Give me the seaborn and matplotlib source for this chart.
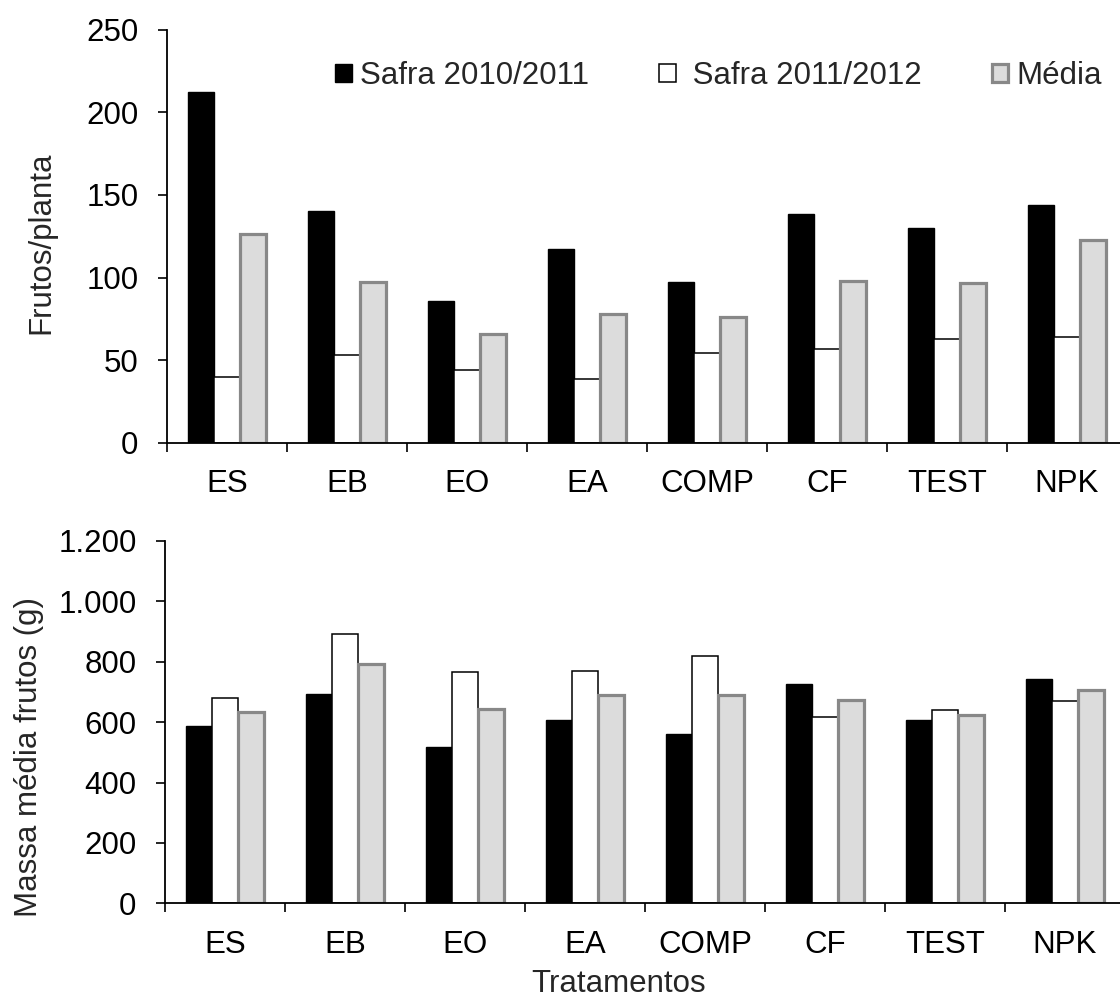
import numpy as np
import pandas as pd
import matplotlib
matplotlib.use("Agg")
import matplotlib.pyplot as plt
import seaborn as sns
from matplotlib.patches import Patch
from matplotlib.ticker import FuncFormatter

# ---------------- data ----------------
categories = ["ES", "EB", "EO", "EA", "COMP", "CF", "TEST", "NPK"]
series_names = ["Safra 2010/2011", "Safra 2011/2012", "Média"]

frutos_2010 = [212, 140, 86, 117, 97, 138.5, 130, 144]
frutos_2011 = [40, 53, 44, 38.5, 54, 57, 63, 64]
frutos_media = [126.5, 97, 65.5, 78, 76, 98, 96.5, 122.5]

massa_2010 = [587, 692, 518, 608, 562, 727, 607, 742]
massa_2011 = [681, 891, 767, 770, 818, 616, 639, 670]
massa_media = [635, 792, 644, 691, 691, 672, 625, 708]

top_yticks = [0, 50, 100, 150, 200, 250]
bottom_yticks = [0, 200, 400, 600, 800, 1000, 1200]

top_ylabel = "Frutos/planta"
bottom_ylabel = "Massa média frutos (g)"
xlabel = "Tratamentos"

# ---------------- style ----------------
sns.set_theme(style="white")
plt.rcParams["font.family"] = ["Liberation Sans", "DejaVu Sans"]
FS = 22.5

fills = ["#000000", "#FFFFFF", "#DCDCDC"]
edges = ["#000000", "#000000", "#888888"]
lws = [1.0, 1.1, 2.3]


def long_df(a, b, c):
    rows = []
    for name, vals in zip(series_names, (a, b, c)):
        for cat, v in zip(categories, vals):
            rows.append({"Tratamento": cat, "Serie": name, "Valor": v})
    return pd.DataFrame(rows)


W, H = 1120, 999
fig = plt.figure(figsize=(W / 100, H / 100), dpi=100)

ax1 = fig.add_axes([167 / W, 1 - 442.7 / H, 960 / W, 413 / H])
ax2 = fig.add_axes([165 / W, 1 - 903.3 / H, 960 / W, 362.3 / H])


def draw(ax, df, ylim, yticks, fmt=None):
    sns.barplot(data=df, x="Tratamento", y="Valor", hue="Serie",
                order=categories, hue_order=series_names,
                palette=fills, saturation=1, width=0.65, errorbar=None,
                legend=False, ax=ax)
    for i, cont in enumerate(ax.containers):
        for p in cont:
            p.set_edgecolor(edges[i])
            p.set_linewidth(lws[i])
            p.set_zorder(2 + i * 0.1)
    ax.set_xlim(-0.5, len(categories) - 0.5)
    ax.set_ylim(*ylim)
    ax.set_yticks(yticks)
    if fmt is not None:
        ax.yaxis.set_major_formatter(FuncFormatter(fmt))
    ax.set_xticks(range(len(categories)))
    ax.set_xticklabels(categories)
    ax.set_xticks(np.arange(-0.5, len(categories), 1.0), minor=True)
    ax.tick_params(axis="x", which="major", length=0, pad=19,
                   labelsize=FS, colors="black")
    ax.tick_params(axis="x", which="minor", length=6.5, width=1.2,
                   direction="out", color="black", bottom=True)
    ax.tick_params(axis="y", which="major", length=6.5, width=1.2,
                   direction="out", pad=14, labelsize=FS, colors="black",
                   left=True)
    for s in ("top", "right"):
        ax.spines[s].set_visible(False)
    for s in ("left", "bottom"):
        ax.spines[s].set_color("black")
        ax.spines[s].set_linewidth(1.3)
    ax.set_xlabel("")
    ax.set_ylabel("")
    ax.set_facecolor("white")
    ax.grid(False)


draw(ax1, long_df(frutos_2010, frutos_2011, frutos_media), (0, 250), top_yticks)
draw(ax2, long_df(massa_2010, massa_2011, massa_media), (0, 1200), bottom_yticks,
     fmt=lambda v, pos: f"{int(round(v)):,}".replace(",", "."))

# legend
handles = [Patch(facecolor=fills[i], edgecolor=edges[i], linewidth=lws[i])
           for i in range(3)]
labels = [series_names[0], " " + series_names[1], series_names[2]]
fig.legend(handles, labels, loc="center left",
           bbox_to_anchor=(335 / W, 1 - 76 / H), ncol=3, frameon=False,
           fontsize=FS, handlelength=0.53, handleheight=0.53,
           handletextpad=0.26, columnspacing=2.25, borderpad=0,
           borderaxespad=0)

# axis titles
fig.text(49.3 / W, 1 - 242.5 / H, top_ylabel, rotation=90,
         rotation_mode="anchor", ha="center", va="baseline", fontsize=FS)
fig.text(37.5 / W, 1 - 757 / H, bottom_ylabel, rotation=90,
         rotation_mode="anchor", ha="center", va="baseline", fontsize=FS)
fig.text(619 / W, 1 - 992.5 / H, xlabel, ha="center", va="baseline",
         fontsize=FS)

fig.savefig("out.png", dpi=100, facecolor="white")
